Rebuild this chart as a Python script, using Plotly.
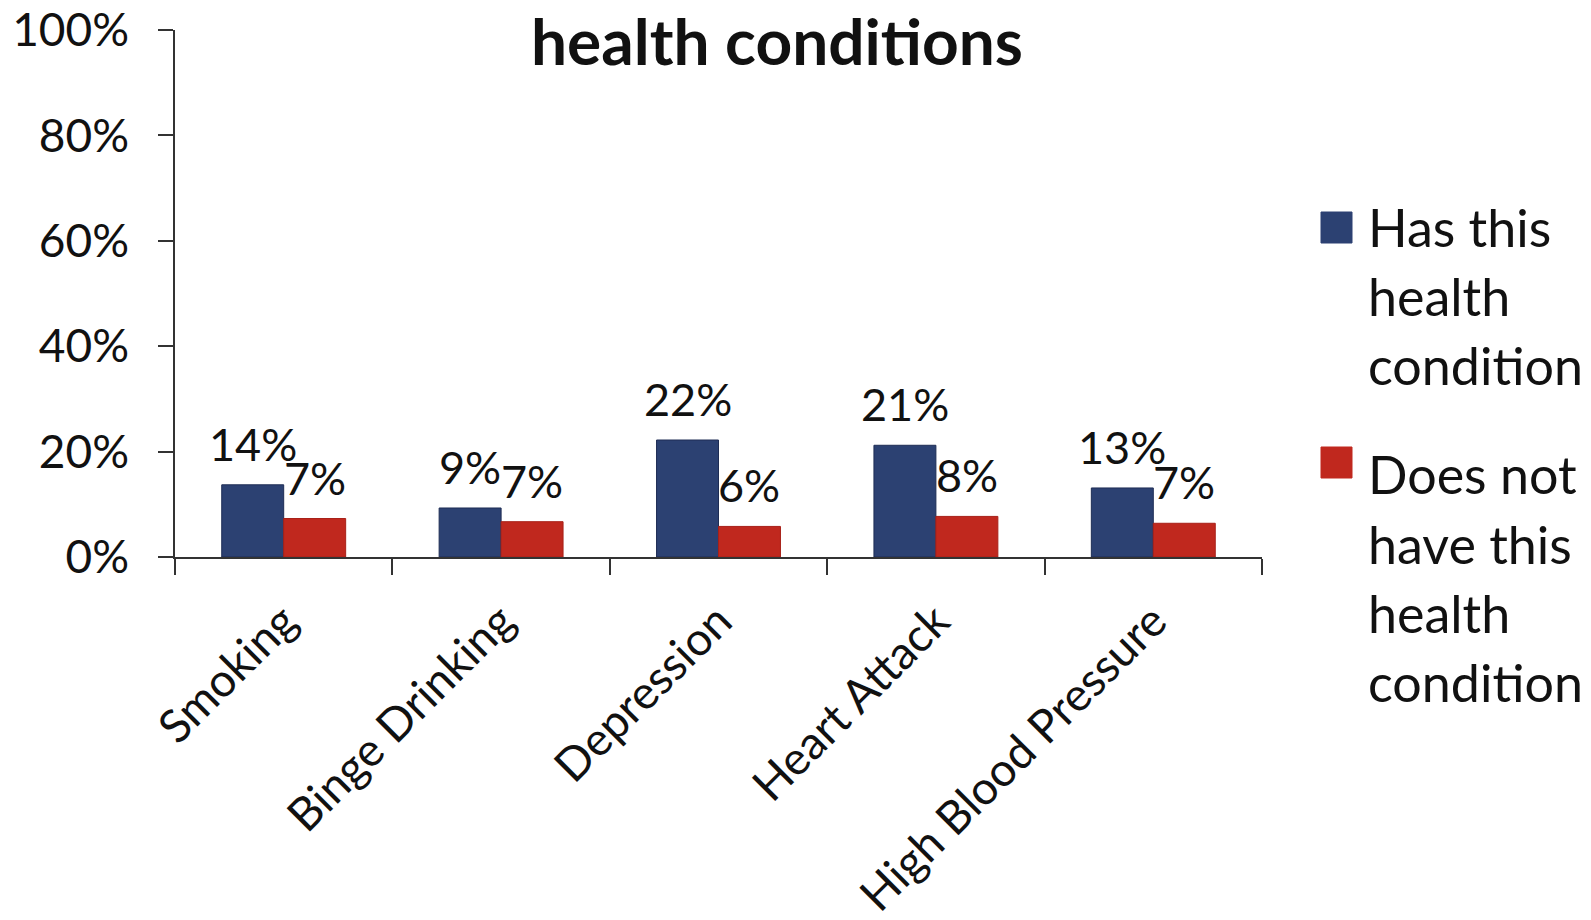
import plotly.graph_objects as go

categories = ["Smoking", "Binge Drinking", "Depression", "Heart Attack", "High Blood Pressure"]
has_condition = [0.137, 0.093, 0.222, 0.212, 0.131]
no_condition = [0.073, 0.067, 0.058, 0.077, 0.064]
has_labels = ["14%", "9%", "22%", "21%", "13%"]
no_labels = ["7%", "7%", "6%", "8%", "7%"]
series_names = [["Has this", "health", "condition"], ["Does not", "have this", "health", "condition"]]
y_ticks = [0, 0.2, 0.4, 0.6, 0.8, 1.0]
y_tick_labels = ["0%", "20%", "40%", "60%", "80%", "100%"]
title_text = "health conditions"

BLUE = "#2C4172"
RED = "#C0281E"
FONT = "Lato, Calibri, Carlito, sans-serif"
BARGAP = 0.43

W, H = 1591, 920
PL, PR, PT, PB = 175, 1262, 30, 557
PW, PH = PR - PL, PB - PT

def px(x):
    return (x - PL) / PW

def py(y):
    return (PB - y) / PH

fig = go.Figure()
fig.add_trace(go.Bar(x=categories, y=has_condition, name=" ".join(series_names[0]),
                     marker=dict(color=BLUE, line=dict(color="#1E2D55", width=1)), showlegend=False))
fig.add_trace(go.Bar(x=categories, y=no_condition, name=" ".join(series_names[1]),
                     marker=dict(color=RED, line=dict(color="#A82018", width=1)), showlegend=False))

annotations = []
half = (1 - BARGAP) / 4
for i, cat in enumerate(categories):
    for vals, labs, off in ((has_condition, has_labels, -half), (no_condition, no_labels, half)):
        annotations.append(dict(x=i + off, y=vals[i], xref="x", yref="y", text=labs[i],
                                showarrow=False, yanchor="bottom", xanchor="center", yshift=12,
                                font=dict(family=FONT, size=45, color="#111111")))

# title
annotations.append(dict(x=px(777), y=1.0, xref="paper", yref="paper", yanchor="top", yshift=30,
                        xanchor="center",
                        text="<b>" + title_text + "</b>", showarrow=False,
                        font=dict(family=FONT, size=64, color="#111111")))

# legend (custom, to match large swatches)
shapes = []
leg_x0, leg_x1 = 1321, 1352
entries = [(BLUE, 212, [227, 296, 365]), (RED, 447, [474, 544, 613, 682])]
for (color, sq_top, line_ys), lines in zip(entries, series_names):
    shapes.append(dict(type="rect", xref="paper", yref="paper",
                       x0=px(leg_x0), x1=px(leg_x1),
                       y0=py(sq_top), y1=py(sq_top + 31),
                       fillcolor=color, line=dict(color=color, width=1)))
    for ly, txt in zip(line_ys, lines):
        annotations.append(dict(x=px(1366), y=py(ly), xref="paper", yref="paper",
                                xanchor="left", yanchor="middle", text=txt, showarrow=False,
                                font=dict(family=FONT, size=52, color="#111111")))

fig.update_layout(
    width=W, height=H,
    margin=dict(l=PL, r=W - PR, t=PT, b=H - PB, autoexpand=False),
    paper_bgcolor="white", plot_bgcolor="white",
    barmode="group", bargap=BARGAP, bargroupgap=0,
    showlegend=False,
    annotations=annotations, shapes=shapes,
    font=dict(family=FONT, size=44, color="#111111"),
)
fig.update_xaxes(type="category", showline=True, linecolor="#333333", linewidth=1.5,
                 ticks="outside", ticklen=16, tickcolor="#333333", tickwidth=1.5,
                 tickson="boundaries", tickangle=-45, showgrid=False, automargin=False,
                 ticklabelstandoff=17,
                 tickfont=dict(family=FONT, size=46, color="#111111"))
fig.update_yaxes(range=[0, 1], tickvals=y_ticks, ticktext=y_tick_labels, showline=True,
                 linecolor="#333333", linewidth=1.5, ticks="outside", ticklen=15,
                 tickcolor="#333333", tickwidth=1.5, showgrid=False, zeroline=False,
                 automargin=False,
                 ticklabelstandoff=20, tickfont=dict(family=FONT, size=46, color="#111111"))

fig.write_html("out.html", config={"displayModeBar": False},
               post_script="document.body.style.margin='0';document.body.style.overflow='hidden';")
